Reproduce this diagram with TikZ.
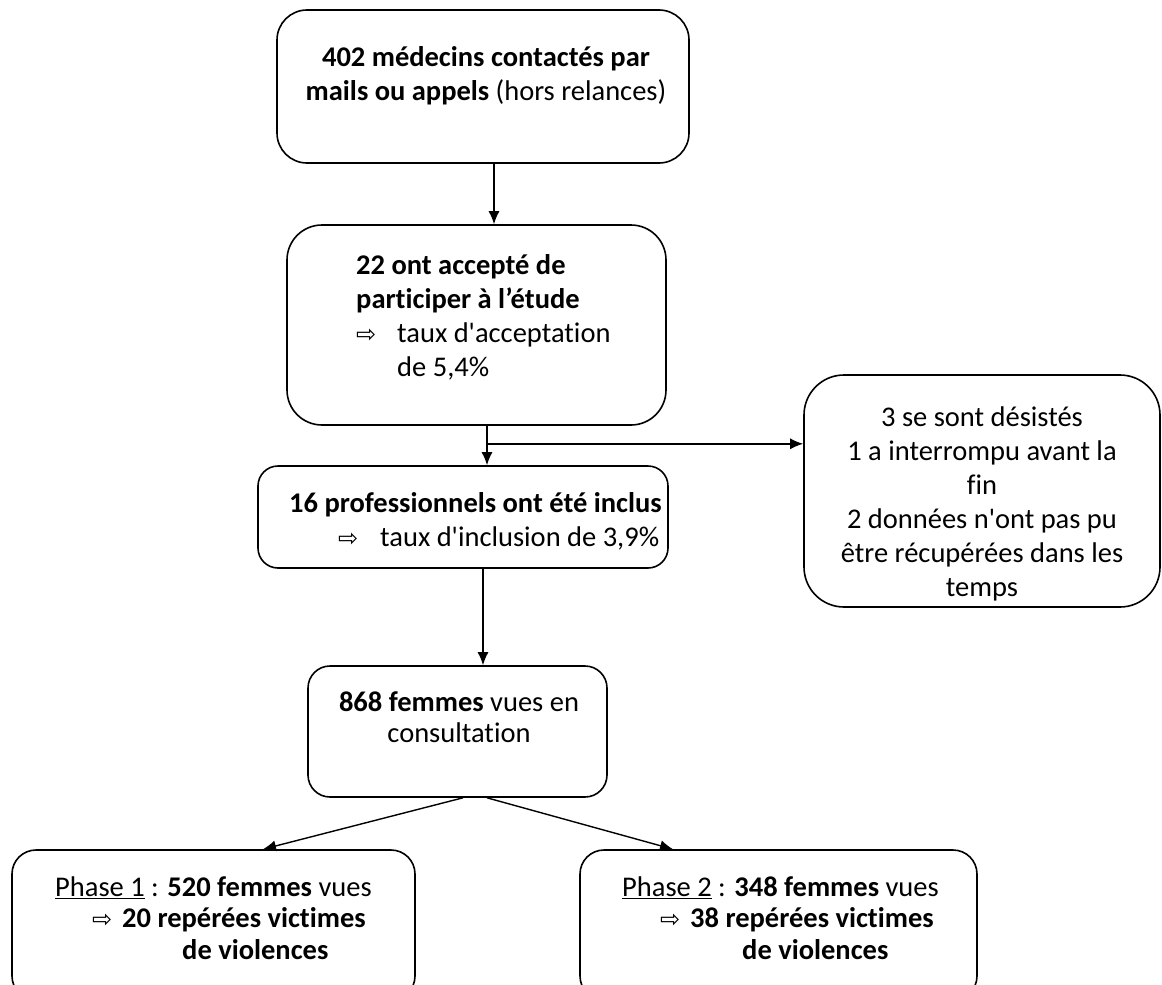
\documentclass[tikz,border=0pt]{standalone}
\usepackage{fontspec}
\setmainfont{Carlito}[Ligatures=NoCommon]
\newfontfamily\arrowfont{DejaVu Sans}
\usetikzlibrary{arrows.meta,positioning}
\tikzset{
  box/.style={draw, line width=1.6pt, rounded corners=#1, inner sep=0pt},
  box/.default=25pt,
  txt/.style={inner sep=0pt, font=\fontsize{28.5}{34}\selectfont},
  tight/.style={txt, font=\fontsize{28.5}{31.5}\selectfont},
  arr/.style={line width=1.4pt, -{Latex[length=13pt,width=11pt]}}
}
\newcommand{\ra}{{\arrowfont\fontsize{24}{34}\selectfont ⇨}}
\newcommand{\apos}{\textquotesingle}
\begin{document}
\begin{tikzpicture}[x=1pt,y=-1pt]
  \useasboundingbox (0,0) rectangle (1162,985);
  \clip (0,0) rectangle (1162,985);

  % cadres
  \node[box=30pt, minimum width=412pt, minimum height=153pt] (contact) at (483,86.5) {};
  \node[box=35pt, minimum width=379pt, minimum height=200pt] (accept) at (476.5,325) {};
  \node[box=20pt, minimum width=410pt, minimum height=102pt] (incl) at (463,517) {};
  \node[box=40pt, minimum width=356pt, minimum height=232pt] (drop) at (982,491) {};
  \node[box=22pt, minimum width=299pt, minimum height=131pt] (women) at (457.5,731.5) {};
  \node[box=24pt, minimum width=403pt, minimum height=150pt] (phaseA) at (213.5,925) {};
  \node[box=24pt, minimum width=397pt, minimum height=150pt] (phaseB) at (778.5,925) {};

  % textes
  \node[txt, anchor=north, align=center] (contactT) at (486,42)
    {\strut\textbf{402 médecins contactés par}\\\textbf{mails ou appels} (hors relances)};
  \node[txt, anchor=north west, align=left] (acceptT) at (356,250)
    {\strut\textbf{22 ont accepté de}\\\textbf{participer à l’étude}\\
     \makebox[41pt][l]{\ra}taux d\apos acceptation\\\hspace*{41pt}de 5,4\%};
  \node[txt, anchor=north west, align=left] (inclT) at (289,488)
    {\strut\textbf{16 professionnels ont été inclus}\\
     \hspace*{49pt}\makebox[42pt][l]{\ra}taux d\apos inclusion de 3,9\%};
  \node[txt, anchor=north, align=center] (dropT) at (982,402)
    {\strut 3 se sont désistés\\1 a interrompu avant la\\fin\\2 données n\apos ont pas pu\\
     être récupérées dans les\\temps};
  \node[tight, anchor=north, align=center] (womenT) at (459,689)
    {\strut\textbf{868 femmes} vues en\\consultation};
  \node[tight, anchor=north west, align=left] (phaseAT) at (55,874)
    {\strut\underline{Phase 1} : \textbf{520 femmes} vues\\
     \hspace*{37pt}\makebox[30pt][l]{\ra}\textbf{20 repérées victimes}\\
     \hspace*{127pt}\textbf{de violences}};
  \node[tight, anchor=north west, align=left] (phaseBT) at (622,874)
    {\strut\underline{Phase 2} : \textbf{348 femmes} vues\\
     \hspace*{38pt}\makebox[30pt][l]{\ra}\textbf{38 repérées victimes}\\
     \hspace*{120pt}\textbf{de violences}};

  % fleches
  \draw[arr] ([xshift=11pt]contact.south) -- ([xshift=11pt]contact.south |- accept.north);
  \draw[arr] ([xshift=10.5pt]accept.south) -- ([xshift=10.5pt]accept.south |- incl.north);
  \coordinate (split) at ([xshift=10.5pt,yshift=-18pt]accept.south);
  \draw[arr] (split) -- (split -| drop.west);
  \draw[arr] ([xshift=20pt]incl.south) -- ([xshift=20pt]incl.south |- women.north);
  \draw[arr] ([xshift=5.5pt]women.south) -- ([xshift=49.5pt]phaseA.north);
  \draw[arr] ([xshift=29.5pt]women.south) -- ([xshift=-105.5pt]phaseB.north);
\end{tikzpicture}
\end{document}
